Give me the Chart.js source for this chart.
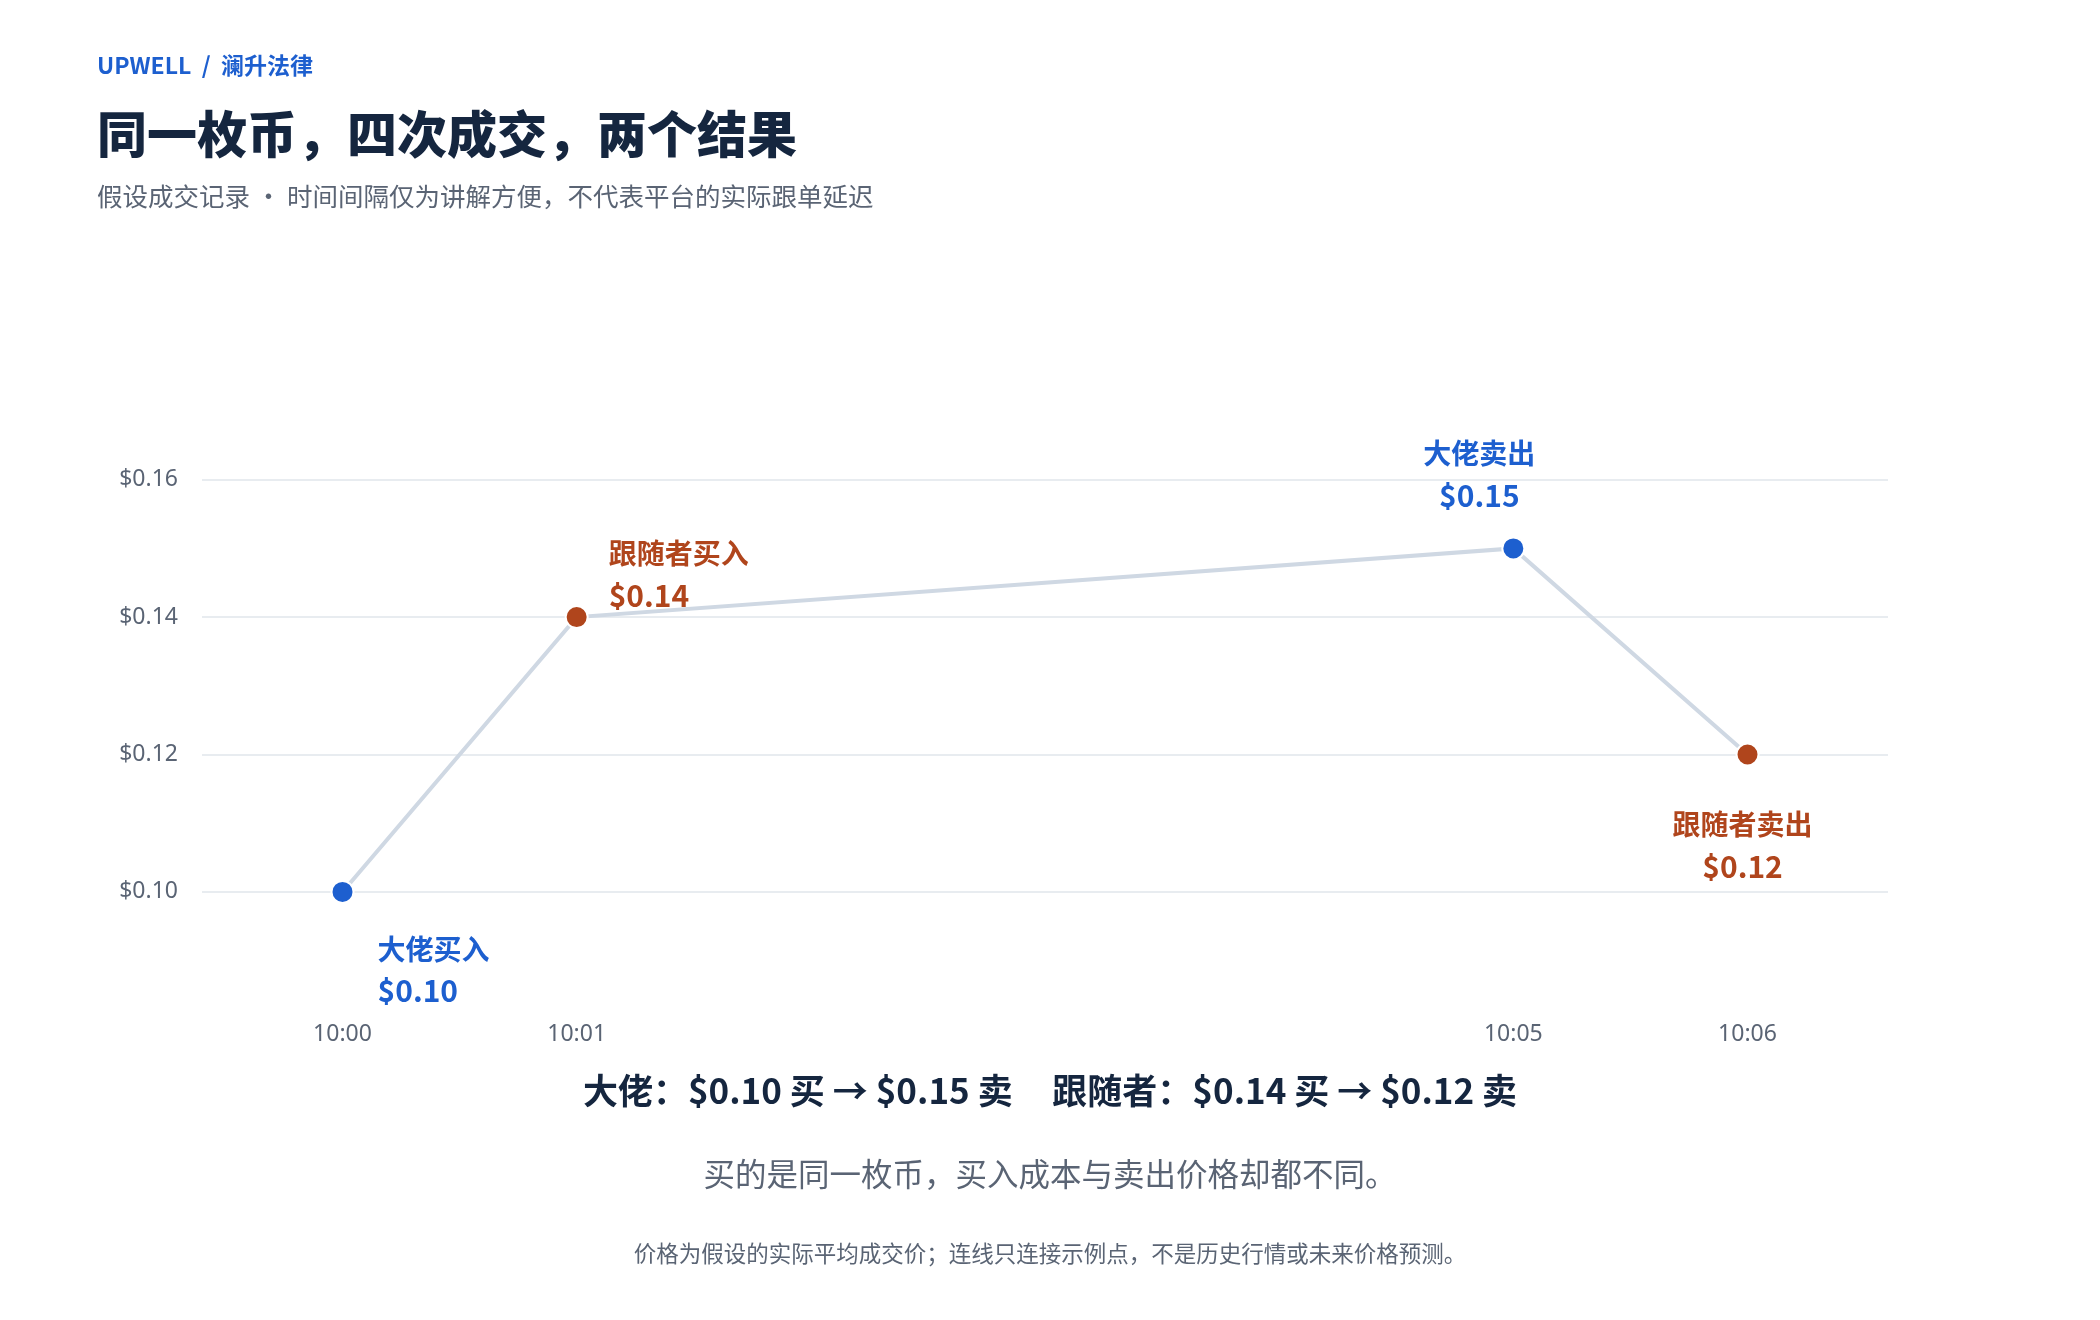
<!DOCTYPE html>
<html>
<head>
<meta charset="utf-8">
<script src="https://cdn.jsdelivr.net/npm/chart.js@4"></script>
<style>
  body { margin: 0; width: 2100px; height: 1320px; background: #fff; font-family: "Noto Sans CJK SC", "Noto Sans", sans-serif; position: relative; overflow: hidden; }
  #wrap { position: absolute; left: 0; top: 0; width: 2100px; height: 1320px; }
  .txt { position: absolute; white-space: nowrap; }
  #brand { left: 97px; top: 47px; font-size: 23px; font-weight: 700; color: #1d5fcf; }
  #title { left: 97px; top: 95px; font-size: 50px; font-weight: 900; color: #15263f; }
  #sub { left: 97px; top: 176px; font-size: 25.5px; color: #5a6474; }
  #sum { left: 0; width: 2100px; text-align: center; top: 1063px; font-size: 35px; font-weight: 700; color: #15263f; }
  #note { left: 0; width: 2100px; text-align: center; top: 1149px; font-size: 31.5px; color: #5a6474; }
  #foot { left: 0; width: 2100px; text-align: center; top: 1236px; font-size: 22.5px; color: #5a6474; }
</style>
</head>
<body>
<div id="wrap"><canvas id="chart" width="2100" height="1320"></canvas></div>
<div class="txt" id="brand">UPWELL&nbsp; /&nbsp; 澜升法律</div>
<div class="txt" id="title">同一枚币，四次成交，两个结果</div>
<div class="txt" id="sub">假设成交记录 · 时间间隔仅为讲解方便，不代表平台的实际跟单延迟</div>
<div class="txt" id="sum">大佬：$0.10 买 → $0.15 卖 &nbsp;&nbsp;&nbsp;&nbsp;跟随者：$0.14 买 → $0.12 卖</div>
<div class="txt" id="note">买的是同一枚币，买入成本与卖出价格却都不同。</div>
<div class="txt" id="foot">价格为假设的实际平均成交价；连线只连接示例点，不是历史行情或未来价格预测。</div>
<script>
const minutes = [0, 1, 5, 6];
const timeLabels = ['10:00', '10:01', '10:05', '10:06'];
const prices = [0.10, 0.14, 0.15, 0.12];
const actors = ['大佬买入', '跟随者买入', '大佬卖出', '跟随者卖出'];
const yTicks = [0.10, 0.12, 0.14, 0.16];

const BLUE = '#1d5fcf';
const ORANGE = '#b0451c';
const pointColors = [BLUE, ORANGE, BLUE, ORANGE];
// label placement relative to each point: dx, dy of first line, text align
const labelPlace = [
  { dx: 35, dy: 57, align: 'left' },
  { dx: 32, dy: -64, align: 'left' },
  { dx: -34, dy: -95, align: 'center' },
  { dx: -5, dy: 70, align: 'center' },
];

const pointLabels = {
  id: 'pointLabels',
  afterDatasetsDraw(chart) {
    const ctx = chart.ctx;
    const meta = chart.getDatasetMeta(0);
    ctx.save();
    ctx.textBaseline = 'middle';
    meta.data.forEach((pt, i) => {
      const p = labelPlace[i];
      ctx.fillStyle = pointColors[i];
      ctx.textAlign = p.align;
      ctx.font = '700 28px "Noto Sans CJK SC"';
      ctx.fillText(actors[i], pt.x + p.dx, pt.y + p.dy);
      ctx.font = '700 30px "Noto Sans CJK SC"';
      ctx.fillText('$' + prices[i].toFixed(2), pt.x + p.dx, pt.y + p.dy + 42);
    });
    ctx.restore();
  }
};

new Chart(document.getElementById('chart'), {
  type: 'line',
  data: {
    datasets: [{
      data: minutes.map((m, i) => ({ x: m, y: prices[i] })),
      borderColor: '#cfd8e3',
      borderWidth: 4,
      pointBackgroundColor: pointColors,
      pointBorderColor: '#fff',
      pointBorderWidth: 2,
      pointRadius: 11,
      tension: 0,
    }]
  },
  options: {
    responsive: false,
    animation: false,
    devicePixelRatio: 1,
    layout: { padding: { left: 0, right: 212, top: 411, bottom: 0 } },
    plugins: { legend: { display: false }, tooltip: { enabled: false } },
    scales: {
      x: {
        type: 'linear', min: -0.6, max: 6.6,
        afterBuildTicks: (axis) => { axis.ticks = minutes.map(v => ({ value: v })); },
        afterFit: (axis) => { axis.height = 325; },
        ticks: {
          callback: (v) => timeLabels[minutes.indexOf(v)],
          color: '#5a6474', font: { size: 23, family: '"Noto Sans"' }, padding: 18,
        },
        grid: { display: false }, border: { display: false },
      },
      y: {
        min: 0.085, max: 0.17,
        afterBuildTicks: (axis) => { axis.ticks = yTicks.map(v => ({ value: v })); },
        afterFit: (axis) => { axis.width = 202; },
        ticks: {
          callback: (v) => '$' + v.toFixed(2),
          color: '#5a6474', font: { size: 23, family: '"Noto Sans"' }, padding: 24,
        },
        grid: { color: '#e8ecf0', lineWidth: 2, drawTicks: false }, border: { display: false },
      }
    }
  },
  plugins: [pointLabels]
});
</script>
</body>
</html>
